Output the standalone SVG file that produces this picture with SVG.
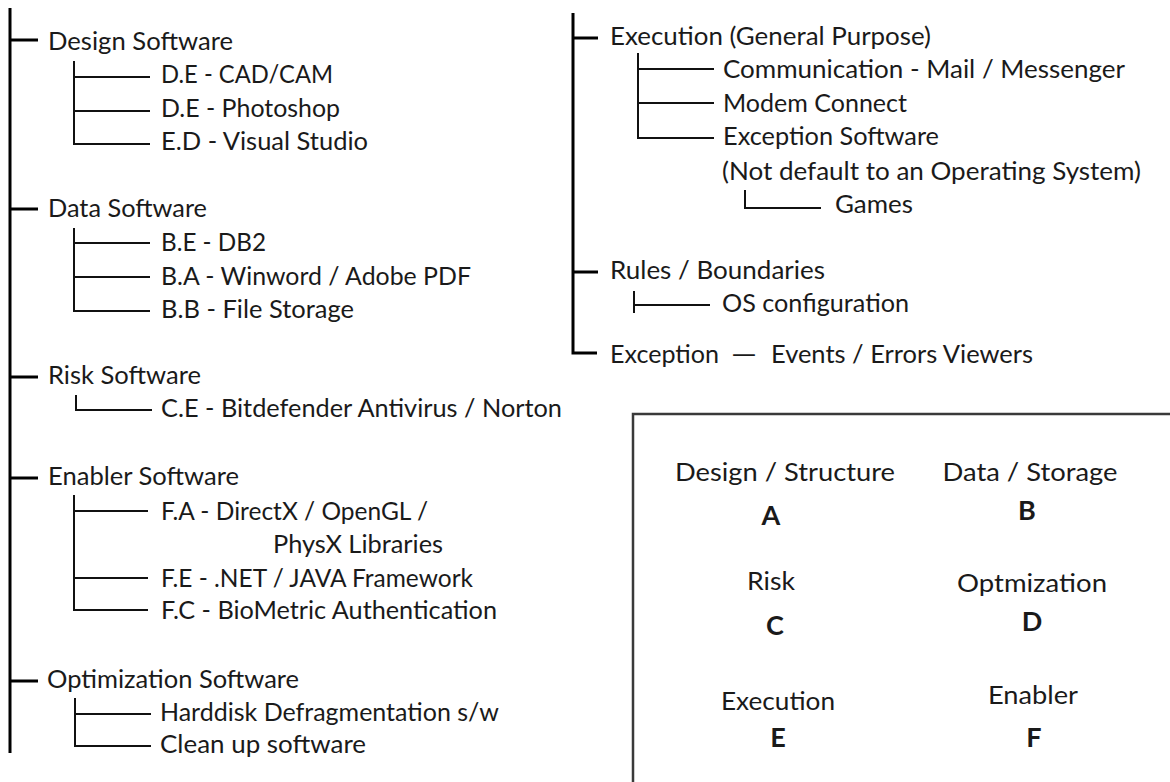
<svg xmlns="http://www.w3.org/2000/svg" width="1170" height="782" viewBox="0 0 1170 782">
<style>
.t{font-family:Lato,"Open Sans","Liberation Sans",sans-serif;font-size:25px;fill:#1a1a1a}
.b{font-family:Lato,"Open Sans","Liberation Sans",sans-serif;font-size:27px;font-weight:700;fill:#1a1a1a;text-anchor:middle}
.c{text-anchor:middle}
.main{stroke:#000;stroke-width:3;fill:none}
.sub{stroke:#111;stroke-width:2;fill:none}
.box{stroke:#3a3a3a;stroke-width:2.5;fill:none}
</style>
<rect width="1170" height="782" fill="#fff"/>
<g id="connectors">
<path class="main" d="M10,8V753M10,40H38M10,209H38M10,377H38M10,478H38M10,681H38"/>
<path class="sub" d="M74,61V144H150M74,77H150M74,111H150"/>
<path class="sub" d="M74,228V311H150M74,243H150M74,277H150"/>
<path class="sub" d="M76,395V410H152"/>
<path class="sub" d="M74,495V610H148M74,511H148M74,578H148"/>
<path class="sub" d="M75,698V746H151M75,714H151"/>
<path class="main" d="M573,13V353H597M573,38H598M573,272H598"/>
<path class="sub" d="M638,53V138H714M638,69H714M638,103H714"/>
<path class="sub" d="M745,190V208H821"/>
<path class="sub" d="M634,291V313M634,305H710"/>
</g>
<g id="design">
<text class="t" x="48" y="50" textLength="185" lengthAdjust="spacingAndGlyphs">Design Software</text>
<text class="t" x="161" y="83" textLength="172" lengthAdjust="spacingAndGlyphs">D.E - CAD/CAM</text>
<text class="t" x="161" y="117" textLength="179" lengthAdjust="spacingAndGlyphs">D.E - Photoshop</text>
<text class="t" x="161" y="150" textLength="207" lengthAdjust="spacingAndGlyphs">E.D - Visual Studio</text>
</g>
<g id="data">
<text class="t" x="48" y="217" textLength="159" lengthAdjust="spacingAndGlyphs">Data Software</text>
<text class="t" x="161" y="251" textLength="105" lengthAdjust="spacingAndGlyphs">B.E - DB2</text>
<text class="t" x="161" y="285" textLength="310" lengthAdjust="spacingAndGlyphs">B.A - Winword / Adobe PDF</text>
<text class="t" x="161" y="318" textLength="193" lengthAdjust="spacingAndGlyphs">B.B - File Storage</text>
</g>
<g id="risk">
<text class="t" x="48" y="384" textLength="153" lengthAdjust="spacingAndGlyphs">Risk Software</text>
<text class="t" x="161" y="417" textLength="401" lengthAdjust="spacingAndGlyphs">C.E - Bitdefender Antivirus / Norton</text>
</g>
<g id="enabler">
<text class="t" x="48" y="485" textLength="191" lengthAdjust="spacingAndGlyphs">Enabler Software</text>
<text class="t" x="161" y="520" textLength="267" lengthAdjust="spacingAndGlyphs">F.A - DirectX / OpenGL /</text>
<text class="t" x="273" y="553" textLength="170" lengthAdjust="spacingAndGlyphs">PhysX Libraries</text>
<text class="t" x="161" y="587" textLength="312" lengthAdjust="spacingAndGlyphs">F.E - .NET / JAVA Framework</text>
<text class="t" x="161" y="619" textLength="336" lengthAdjust="spacingAndGlyphs">F.C - BioMetric Authentication</text>
</g>
<g id="optimization">
<text class="t" x="47" y="688" textLength="252" lengthAdjust="spacingAndGlyphs">Optimization Software</text>
<text class="t" x="160" y="721" textLength="339" lengthAdjust="spacingAndGlyphs">Harddisk Defragmentation s/w</text>
<text class="t" x="160" y="753" textLength="206" lengthAdjust="spacingAndGlyphs">Clean up software</text>
</g>
<g id="execution">
<text class="t" x="610" y="45" textLength="321" lengthAdjust="spacingAndGlyphs">Execution (General Purpose)</text>
<text class="t" x="723" y="78" textLength="402" lengthAdjust="spacingAndGlyphs">Communication - Mail / Messenger</text>
<text class="t" x="723" y="112" textLength="184" lengthAdjust="spacingAndGlyphs">Modem Connect</text>
<text class="t" x="723" y="145" textLength="216" lengthAdjust="spacingAndGlyphs">Exception Software</text>
<text class="t" x="722" y="180" textLength="419" lengthAdjust="spacingAndGlyphs">(Not default to an Operating System)</text>
<text class="t" x="835" y="213" textLength="78" lengthAdjust="spacingAndGlyphs">Games</text>
</g>
<g id="rules">
<text class="t" x="610" y="279" textLength="215" lengthAdjust="spacingAndGlyphs">Rules / Boundaries</text>
<text class="t" x="722" y="312" textLength="187" lengthAdjust="spacingAndGlyphs">OS configuration</text>
</g>
<g id="exception">
<text class="t" y="363"><tspan x="610" textLength="109" lengthAdjust="spacingAndGlyphs">Exception</tspan><tspan x="731" textLength="26" lengthAdjust="spacingAndGlyphs">—</tspan><tspan x="771" textLength="262" lengthAdjust="spacingAndGlyphs">Events / Errors Viewers</tspan></text>
</g>
<g id="legend">
<path class="box" d="M633,782V414H1170"/>
<text class="t c" x="785" y="481" textLength="220" lengthAdjust="spacingAndGlyphs">Design / Structure</text>
<text class="b" x="771" y="525">A</text>
<text class="t c" x="1030" y="481" textLength="175" lengthAdjust="spacingAndGlyphs">Data / Storage</text>
<text class="b" x="1027" y="520">B</text>
<text class="t c" x="771" y="590" textLength="48" lengthAdjust="spacingAndGlyphs">Risk</text>
<text class="b" x="775" y="635">C</text>
<text class="t c" x="1032" y="592" textLength="150" lengthAdjust="spacingAndGlyphs">Optmization</text>
<text class="b" x="1032" y="631">D</text>
<text class="t c" x="778" y="710" textLength="114" lengthAdjust="spacingAndGlyphs">Execution</text>
<text class="b" x="778" y="747">E</text>
<text class="t c" x="1033" y="704" textLength="90" lengthAdjust="spacingAndGlyphs">Enabler</text>
<text class="b" x="1034" y="747">F</text>
</g>
</svg>
